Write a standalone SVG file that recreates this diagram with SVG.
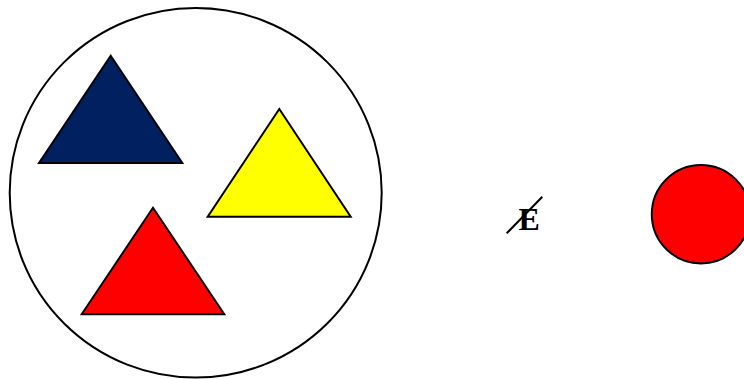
<svg xmlns="http://www.w3.org/2000/svg" width="744" height="379" viewBox="0 0 744 379">
<style>
.s{stroke:#000;stroke-width:2;stroke-linejoin:miter}
.t{font-family:"Liberation Serif",serif;font-weight:bold;font-size:32px}
</style>
<rect width="744" height="379" fill="#fff"/>
<g id="big-circle"><ellipse class="s" cx="195.7" cy="192.8" rx="186" ry="184.8" fill="#fff"/></g>
<g id="blue-triangle"><polygon class="s" points="110.7,55.7 182.3,163 39,163" fill="#002060"/></g>
<g id="yellow-triangle"><polygon class="s" points="279.3,109 350.7,216.7 207.7,216.7" fill="#ffff00"/></g>
<g id="red-triangle"><polygon class="s" points="153,207.7 224.3,314.3 81.7,314.3" fill="#ff0000"/></g>
<g id="crossed-E">
<text class="t" x="518.5" y="230">E</text>
<line x1="506.7" y1="233.3" x2="542.3" y2="196.7" stroke="#000" stroke-width="2"/>
</g>
<g id="red-circle"><circle class="s" cx="701" cy="214.2" r="49.2" fill="#ff0000"/></g>
<g id="connectors"></g>
</svg>
